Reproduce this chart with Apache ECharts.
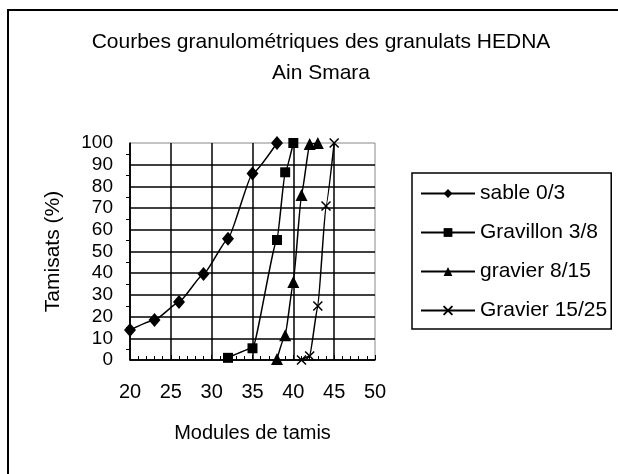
<!DOCTYPE html>
<html>
<head>
<meta charset="utf-8">
<script src="https://cdn.jsdelivr.net/npm/echarts@6/dist/echarts.min.js"></script>
<style>
html, body { margin: 0; padding: 0; background: #fff; }
#chart { width: 618px; height: 474px; }
</style>
</head>
<body>
<div id="chart"></div>
<script>
// modules de tamis (x) et tamisats en % (y)
var sableX = [20, 23, 26, 29, 32, 35, 38];
var sableY = [13.8, 18.4, 26.7, 39.6, 55.9, 86, 100];
var gravillonX = [32, 35, 38, 39, 40];
var gravillonY = [1, 5.4, 55.3, 86.5, 100];
var gravier815X = [38, 39, 40, 41, 42, 43];
var gravier815Y = [0.5, 11.4, 36, 76, 99.5, 100];
var gravier1525X = [41, 42, 43, 44, 45];
var gravier1525Y = [0, 1.8, 24.9, 71, 100];
var seriesNames = ['sable 0/3', 'Gravillon 3/8', 'gravier 8/15', 'Gravier 15/25'];

var FONT = 'Liberation Sans, Arial, sans-serif';

function pairs(xs, ys) {
    return xs.map(function (x, i) { return [x, ys[i]]; });
}

var myChart = echarts.init(document.getElementById('chart'));
var option = {
    backgroundColor: '#fff',
    animation: false,
    textStyle: { fontFamily: FONT, color: '#000' },
    graphic: [{
        type: 'rect',
        shape: { x: 8, y: 10, width: 700, height: 600 },
        style: { fill: 'none', stroke: '#000', lineWidth: 2 }
    }],
    title: {
        text: 'Courbes granulométriques des granulats HEDNA\nAin Smara',
        left: 316,
        top: 22,
        textAlign: 'center',
        textStyle: {
            fontFamily: FONT,
            fontSize: 21,
            fontWeight: 'normal',
            color: '#000',
            lineHeight: 31
        }
    },
    legend: {
        orient: 'vertical',
        left: 412,
        top: 173,
        padding: [10, 4, 8, 8],
        borderColor: '#000',
        borderWidth: 1.5,
        itemWidth: 54,
        itemHeight: 11,
        itemGap: 18,
        textStyle: { fontFamily: FONT, fontSize: 21, color: '#000', lineHeight: 20 },
        data: seriesNames
    },
    grid: {
        left: 130,
        right: 243,
        top: 143,
        bottom: 114,
        show: true,
        borderColor: '#888',
        borderWidth: 1
    },
    xAxis: {
        type: 'value',
        min: 20,
        max: 50,
        interval: 5,
        name: 'Modules de tamis',
        nameLocation: 'middle',
        nameGap: 63,
        nameTextStyle: { fontFamily: FONT, fontSize: 20, color: '#000' },
        axisLine: { lineStyle: { color: '#000', width: 1.5 } },
        axisTick: { inside: true, length: 5, lineStyle: { color: '#000' } },
        minorTick: { show: true, splitNumber: 5, length: 4, lineStyle: { color: '#000' } },
        axisLabel: { margin: 22, fontFamily: FONT, fontSize: 20, color: '#000' },
        splitLine: { show: true, showMaxLine: false, lineStyle: { color: '#000', width: 1.5 } }
    },
    yAxis: {
        type: 'value',
        min: 0,
        max: 100,
        interval: 10,
        name: 'Tamisats (%)',
        nameLocation: 'middle',
        nameGap: 66,
        nameTextStyle: { fontFamily: FONT, fontSize: 21, color: '#000' },
        axisLine: { show: true, lineStyle: { color: '#000', width: 1.5 } },
        axisTick: { show: false },
        minorTick: { show: true, splitNumber: 2, length: 4, lineStyle: { color: '#000' } },
        axisLabel: { margin: 17, fontFamily: FONT, fontSize: 19, color: '#000' },
        splitLine: { show: true, showMaxLine: false, lineStyle: { color: '#000', width: 1.5 } }
    },
    series: [
        {
            name: seriesNames[0],
            type: 'line',
            smooth: 0.15,
            smoothMonotone: 'x',
            symbol: 'diamond',
            symbolSize: [12, 14],
            lineStyle: { color: '#000', width: 1.5 },
            itemStyle: { color: '#000' },
            data: pairs(sableX, sableY)
        },
        {
            name: seriesNames[1],
            type: 'line',
            smooth: 0.15,
            smoothMonotone: 'x',
            symbol: 'rect',
            symbolSize: 10,
            lineStyle: { color: '#000', width: 1.5 },
            itemStyle: { color: '#000' },
            data: pairs(gravillonX, gravillonY)
        },
        {
            name: seriesNames[2],
            type: 'line',
            smooth: 0.15,
            smoothMonotone: 'x',
            symbol: 'triangle',
            symbolSize: 12,
            lineStyle: { color: '#000', width: 1.5 },
            itemStyle: { color: '#000' },
            data: pairs(gravier815X, gravier815Y)
        },
        {
            name: seriesNames[3],
            type: 'line',
            smooth: 0.15,
            smoothMonotone: 'x',
            symbol: 'path://M0,0L10,10M10,0L0,10',
            symbolSize: 9,
            lineStyle: { color: '#000', width: 1.5 },
            itemStyle: { color: '#000', borderColor: '#000', borderWidth: 1.5 },
            data: pairs(gravier1525X, gravier1525Y)
        }
    ]
};
myChart.setOption(option);
</script>
</body>
</html>
